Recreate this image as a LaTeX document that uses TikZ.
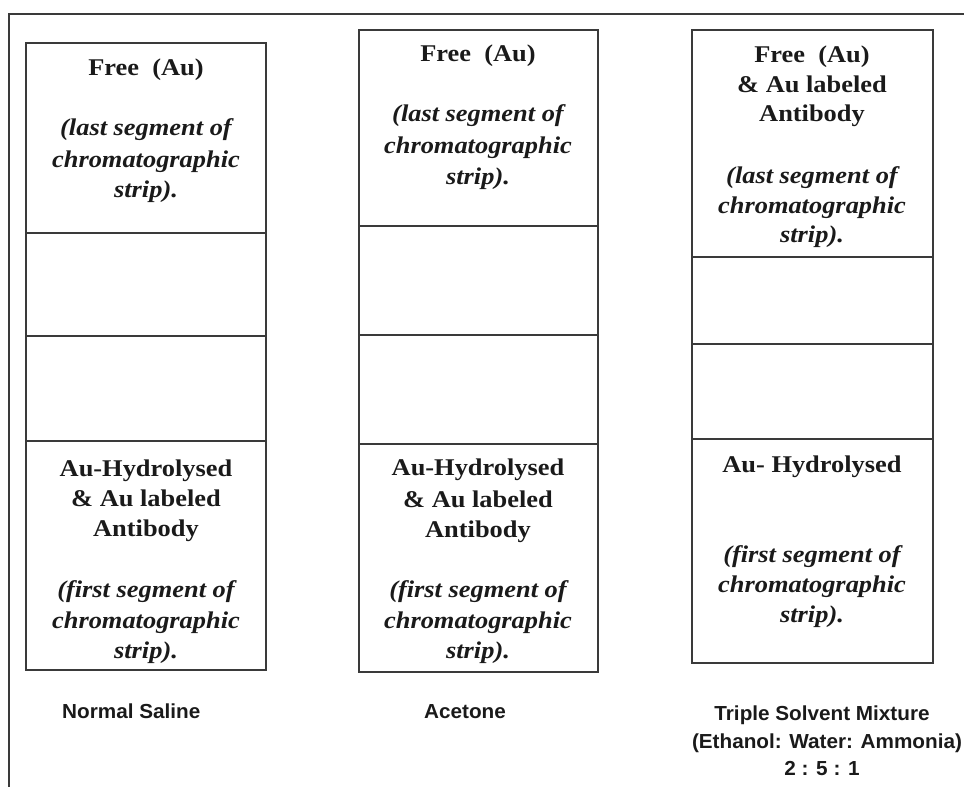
\documentclass[tikz,border=0pt]{standalone}
\usepackage{fontspec}
\setmainfont{Liberation Serif}[FakeStretch=1.1]
\newfontfamily\labelfont{Liberation Sans}[FakeStretch=1.02]
\definecolor{lineC}{HTML}{3A3A3A}
\definecolor{textC}{HTML}{1A1A1A}
\begin{document}
\begin{tikzpicture}[x=1pt,y=-1pt,
  frameline/.style={draw=lineC,line width=1.6pt},
  strip/.style={draw=lineC,line width=2.7pt},
  bt/.style={anchor=base,inner sep=0pt,text=textC,font=\fontsize{24}{28}\selectfont\bfseries},
  it/.style={anchor=base,inner sep=0pt,text=textC,font=\fontsize{24}{28}\selectfont\bfseries\itshape},
  lab/.style={anchor=base,inner sep=0pt,text=textC,font=\labelfont\fontsize{20.3}{24}\selectfont\bfseries}]
\useasboundingbox (0,0) rectangle (964,787);
% frame
\coordinate (f1) at (9,787);
\coordinate (f2) at (9,14);
\coordinate (f3) at (964,14);
\draw[frameline] (f1) -- (f2) -- (f3);

% strip 1
\draw[strip] (26,43) rectangle (266,670);
\draw[strip] (26,233) -- (266,233);
\draw[strip] (26,336) -- (266,336);
\draw[strip] (26,441) -- (266,441);
% strip 2
\draw[strip] (359,30) rectangle (598,672);
\draw[strip] (359,226) -- (598,226);
\draw[strip] (359,335) -- (598,335);
\draw[strip] (359,444) -- (598,444);
% strip 3
\draw[strip] (692,30) rectangle (933,663);
\draw[strip] (692,257) -- (933,257);
\draw[strip] (692,344) -- (933,344);
\draw[strip] (692,439) -- (933,439);

% texts strip 1
\node[bt] (a1) at (146,75) {Free\ \ (Au)};
\node[it] (a2) at (146,135) {(last segment of};
\node[it] (a3) at (146,167) {chromatographic};
\node[it] (a4) at (146,197) {strip).};
\node[bt] (a5) at (146,476) {Au-Hydrolysed};
\node[bt] (a6) at (146,506) {\&~Au labeled};
\node[bt] (a7) at (146,536) {Antibody};
\node[it] (a8) at (146,597) {(first segment of};
\node[it] (a9) at (146,628) {chromatographic};
\node[it] (a10) at (146,658) {strip).};

% texts strip 2
\node[bt] (b1) at (478,61) {Free\ \ (Au)};
\node[it] (b2) at (478,121) {(last segment of};
\node[it] (b3) at (478,153) {chromatographic};
\node[it] (b4) at (478,184) {strip).};
\node[bt] (b5) at (478,475) {Au-Hydrolysed};
\node[bt] (b6) at (478,507) {\&~Au labeled};
\node[bt] (b7) at (478,537) {Antibody};
\node[it] (b8) at (478,597) {(first segment of};
\node[it] (b9) at (478,628) {chromatographic};
\node[it] (b10) at (478,658) {strip).};

% texts strip 3
\node[bt] (c1) at (812,62) {Free\ \ (Au)};
\node[bt] (c2) at (812,92) {\&~Au labeled};
\node[bt] (c3) at (812,121) {Antibody};
\node[it] (c4) at (812,183) {(last segment of};
\node[it] (c5) at (812,213) {chromatographic};
\node[it] (c6) at (812,242) {strip).};
\node[bt] (c7) at (812,472) {Au- Hydrolysed};
\node[it] (c8) at (812,562) {(first segment of};
\node[it] (c9) at (812,592) {chromatographic};
\node[it] (c10) at (812,622) {strip).};

% labels
\node[lab,anchor=base west] (l1) at (62,718) {Normal Saline};
\node[lab] (l2) at (465,718) {Acetone};
\node[lab] (l3) at (822,720) {Triple Solvent Mixture};
\node[lab] (l4) at (827,748) {(Ethanol: Water: Ammonia)};
\node[lab] (l5) at (822,775) {2 : 5 : 1};
\end{tikzpicture}
\end{document}
